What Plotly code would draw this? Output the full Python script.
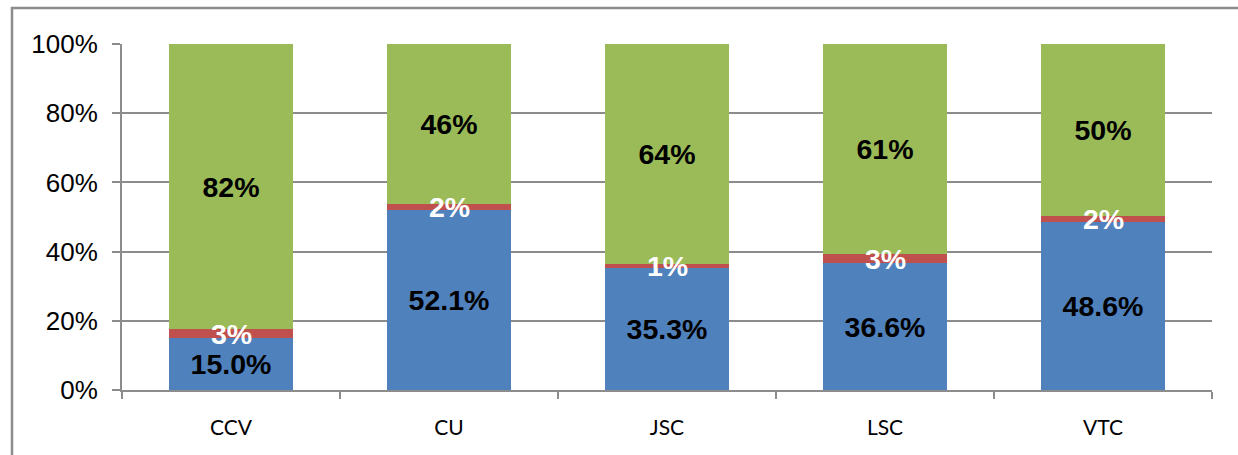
import plotly.graph_objects as go

categories = ["CCV", "CU", "JSC", "LSC", "VTC"]
blue_vals = [15.0, 52.1, 35.3, 36.6, 48.6]
red_vals = [2.6, 1.6, 1.1, 2.8, 1.6]
green_vals = [82.4, 46.3, 63.6, 60.6, 49.8]
y_ticks = [0, 20, 40, 60, 80, 100]
y_tick_labels = ["0%", "20%", "40%", "60%", "80%", "100%"]

BLUE = "#4F81BD"
RED = "#C0504D"
GREEN = "#9BBB59"
GRID = "#8C8C8C"
LABEL_FONT = dict(family="Liberation Sans, Arial, sans-serif", size=28.5, color="black")

fig = go.Figure()
fig.add_trace(go.Bar(x=categories, y=blue_vals, marker=dict(color=BLUE, line=dict(width=0)),
                     texttemplate="<b>%{y:.1f}%</b>", textposition="inside",
                     insidetextanchor="middle", textangle=0, textfont=LABEL_FONT,
                     constraintext="none", name="Blue"))
fig.add_trace(go.Bar(x=categories, y=red_vals, marker=dict(color=RED, line=dict(width=0)),
                     name="Red", texttemplate=""))
fig.add_trace(go.Bar(x=categories, y=green_vals, marker=dict(color=GREEN, line=dict(width=0)),
                     texttemplate="<b>%{y:.0f}%</b>", textposition="inside",
                     insidetextanchor="middle", textangle=0, textfont=LABEL_FONT,
                     constraintext="none", name="Green"))

# white labels for the thin red segments
for c, b, r in zip(categories, blue_vals, red_vals):
    fig.add_annotation(x=c, y=b + r / 2, text=f"<b>{r:.0f}%</b>", showarrow=False,
                       font=dict(family="Liberation Sans, Arial, sans-serif", size=28.5, color="white"),
                       xref="x", yref="y", yanchor="middle")

W, H = 1238, 455
L, R, T, B = 122, 1212, 44, 390
pw, ph = R - L, B - T

def px(xp):
    return (xp - L) / pw

def py(yp):
    return (B - yp) / ph

# outer chart frame: left edge as a line, top edge as a thin filled bar
fig.add_shape(type="line", xref="paper", yref="paper", x0=px(12), x1=px(12), y0=py(7), y1=py(470),
              line=dict(color=GRID, width=2.5))
fig.add_shape(type="rect", xref="paper", yref="paper", x0=px(11), x1=px(1238), y0=py(9.2), y1=py(6.8),
              fillcolor=GRID, line=dict(width=0))

fig.update_layout(
    width=W, height=H,
    margin=dict(l=L, r=W - R, t=T, b=H - B, pad=0),
    barmode="stack",
    bargap=0.427,
    showlegend=False,
    plot_bgcolor="white",
    paper_bgcolor="white",
    uniformtext=dict(minsize=28, mode="show"),
)
fig.update_yaxes(range=[0, 100], tickvals=y_ticks, ticktext=y_tick_labels,
                 showgrid=True, gridcolor=GRID, gridwidth=2,
                 showline=True, linecolor=GRID, linewidth=2,
                 ticks="outside", ticklen=8, tickwidth=2, tickcolor=GRID,
                 tickfont=dict(family="Liberation Sans, Arial, sans-serif", size=26, color="black"),
                 ticklabelstandoff=9, zeroline=False, fixedrange=True)
fig.update_xaxes(showline=True, linecolor=GRID, linewidth=2,
                 ticks="outside", tickson="boundaries", ticklen=7, tickwidth=2, tickcolor=GRID,
                 tickfont=dict(family="Lato, Carlito, sans-serif", size=21, color="black"),
                 ticklabelstandoff=18, showgrid=False, fixedrange=True)

fig.write_html(
    "out.html",
    config={"displayModeBar": False},
    post_script="document.body.style.margin='0';document.body.style.overflow='hidden';"
                "document.documentElement.style.overflow='hidden';",
)
